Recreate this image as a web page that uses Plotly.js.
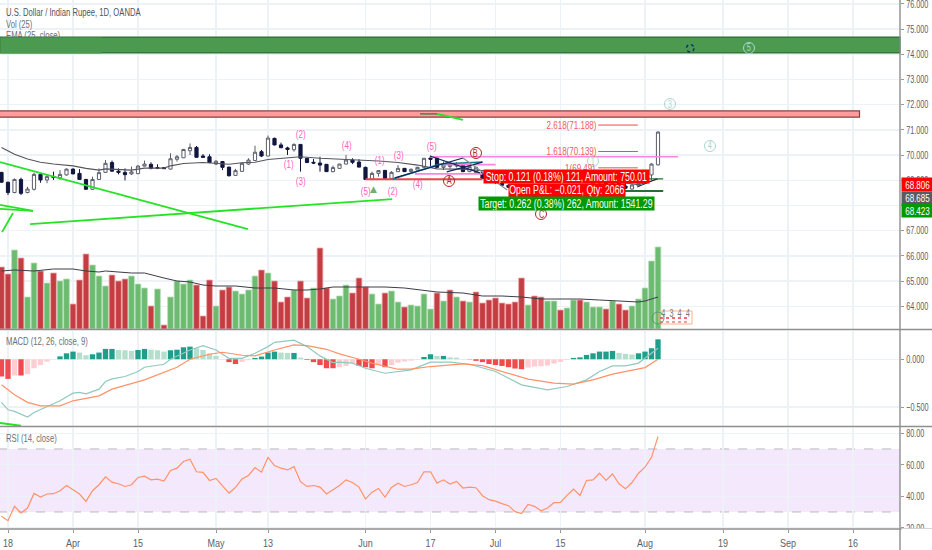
<!DOCTYPE html>
<html><head><meta charset="utf-8">
<script src="https://cdn.plot.ly/plotly-3.0.1.min.js"></script>
<style>html,body{margin:0;padding:0;background:#fff;overflow:hidden}#c{width:932px;height:550px}</style>
</head><body><div id="c"></div>
<script>
// bar index 0 = 18 Mar; trading-day axis
const tickBars=[0,10,20,32,40,55,65,75,85,98,110,120,130];
const tickLabels=['18','Apr','15','May','13','Jun','17','Jul','15','Aug','19','Sep','16'];
const firstBar=-1;
const opens=[69.31,68.92,68.51,69.03,68.51,68.64,69.23,69.01,69.15,69.10,69.21,69.44,69.27,69.03,68.64,69.03,69.31,69.70,69.36,69.31,69.25,69.26,69.56,69.63,69.50,69.50,69.44,69.83,69.89,70.17,70.30,69.96,69.93,69.64,69.74,69.52,69.19,69.35,69.64,69.78,70.13,69.96,70.66,70.40,70.28,70.21,70.42,69.87,69.71,69.68,69.63,69.34,69.47,69.64,69.80,69.72,69.51,69.03,69.27,69.39,69.07,69.34,69.47,69.34,69.40,69.51,69.88,69.88,69.51,69.54,69.56,69.59,69.34,69.30,69.30,69.07,68.98,68.90,68.80,68.72,68.70,68.45,68.55,68.42,68.40,68.52,68.62,68.55,68.66,68.80,68.72,68.84,68.92,68.90,68.82,68.88,68.77,68.65,68.78,68.88,69.21,69.61];
const highs=[69.33,68.94,69.07,69.10,68.74,69.30,69.25,69.21,69.34,69.40,69.47,69.47,69.44,69.05,69.14,69.47,69.80,69.78,69.47,69.47,69.54,69.60,69.78,69.71,69.63,69.52,70.07,70.00,70.24,70.46,70.36,70.04,70.03,69.80,69.75,69.53,69.45,69.70,69.87,70.37,70.20,70.77,70.69,70.49,70.33,70.46,70.42,69.88,69.84,69.93,69.64,69.58,69.65,70.00,69.87,69.83,69.54,69.34,69.39,69.40,69.36,69.60,69.48,69.47,69.53,69.88,69.97,69.90,69.75,69.70,69.72,69.62,69.56,69.53,69.32,69.10,69.02,68.93,68.84,68.75,68.73,68.58,68.60,68.58,68.46,68.56,68.66,68.66,68.70,68.84,68.82,68.88,68.96,68.96,68.92,68.92,68.90,68.84,68.92,69.10,69.68,70.94];
const lows=[68.90,68.41,68.48,68.41,68.48,68.59,68.90,68.88,69.01,69.01,69.18,69.24,69.01,68.62,68.61,69.01,69.30,69.34,69.23,68.99,69.21,69.24,69.54,69.43,69.44,69.45,69.43,69.74,69.88,70.00,69.89,69.89,69.69,69.60,69.40,69.14,69.18,69.33,69.60,69.77,69.92,69.95,70.38,70.27,70.00,70.13,69.34,69.68,69.64,69.34,69.33,69.31,69.46,69.63,69.64,69.51,69.02,69.00,69.14,69.06,69.03,69.33,69.33,69.30,69.38,69.50,69.55,69.49,69.40,69.45,69.50,69.32,69.32,69.27,69.05,68.95,68.86,68.77,68.69,68.67,68.42,68.42,68.39,68.38,68.38,68.49,68.52,68.52,68.63,68.70,68.69,68.81,68.87,68.79,68.80,68.74,68.66,68.63,68.76,68.86,69.00,69.58];
const closes=[68.92,68.51,69.03,68.48,68.65,69.23,69.01,69.14,69.11,69.23,69.44,69.25,69.03,68.64,69.03,69.30,69.67,69.36,69.31,69.22,69.33,69.56,69.64,69.47,69.47,69.46,69.85,69.93,70.22,70.30,69.91,69.91,69.70,69.75,69.51,69.18,69.38,69.67,69.80,70.11,69.96,70.67,70.40,70.29,70.22,70.42,69.87,69.70,69.68,69.60,69.34,69.50,69.64,69.80,69.71,69.52,69.03,69.27,69.38,69.07,69.31,69.47,69.34,69.43,69.51,69.87,69.83,69.51,69.60,69.62,69.64,69.34,69.54,69.51,69.07,68.98,68.90,68.80,68.72,68.70,68.45,68.55,68.42,68.40,68.52,68.62,68.55,68.66,68.80,68.72,68.84,68.92,68.90,68.82,68.88,68.77,68.68,68.81,68.88,69.07,69.64,70.91];
const emaBars=[-1,1,3,5,7,10,12,14,15,17,19,21,24,25,27,30,32,34,36,38,40,43,45,48,51,54,57,60,63,66,70,74,78,82,86,90,94,97,100];
const emaValues=[70.30,70.03,69.84,69.71,69.64,69.57,69.47,69.40,69.45,69.42,69.40,69.48,69.48,69.57,69.66,69.70,69.66,69.63,69.69,69.71,69.82,69.90,69.93,69.87,69.84,69.80,69.76,69.70,69.60,69.45,69.44,69.36,69.28,69.20,69.12,69.00,68.92,68.82,69.05];
const volume=[62,55,79,71,32,66,58,46,56,48,50,25,49,75,64,53,43,54,48,50,53,45,41,23,40,4,32,48,45,49,44,13,49,23,39,42,38,35,39,53,59,56,48,27,32,39,48,31,41,81,41,30,33,44,36,51,42,35,25,36,38,27,22,24,23,35,20,36,28,39,32,28,27,37,26,29,31,26,25,27,51,24,33,32,28,28,19,21,29,29,27,22,22,20,28,25,19,23,30,41,68,82];
const volumeUp=[0,0,1,0,1,1,0,1,0,1,1,0,0,0,1,1,1,0,0,0,1,1,1,0,1,0,1,1,1,1,0,0,0,1,0,0,1,1,1,1,0,1,0,0,0,1,0,0,1,0,0,1,1,1,0,0,0,1,1,0,1,1,0,1,1,1,1,0,1,0,1,0,1,0,0,0,0,0,0,0,0,1,0,0,1,1,0,1,1,0,1,1,1,0,1,0,0,1,1,1,1,1];
const volMaBars=[-1,1,4,7,10,12,14,15,19,21,24,26,28,30,32,35,38,41,44,46,48,50,52,55,58,61,64,66,70,73,76,79,82,85,88,91,94,97,98,100];
const volMaValues=[58,59,58,60,60,58,57,58,56,56,51,48,47,44,43,43,41,41,39,39,40,42,42,42,42,41,39,37,36,33,33,32,30,30,30,29,28,27,28,32];
const macdHist=[-0.18,-0.205,-0.17,-0.17,-0.156,-0.094,-0.06,-0.024,-0.003,0.03,0.062,0.08,0.07,0.042,0.052,0.07,0.108,0.108,0.097,0.094,0.087,0.097,0.108,0.10,0.094,0.08,0.094,0.10,0.125,0.132,0.115,0.097,0.06,0.035,0.002,-0.03,-0.05,-0.028,-0.01,0.014,0.028,0.07,0.08,0.07,0.066,0.066,0.017,-0.007,-0.03,-0.06,-0.094,-0.094,-0.083,-0.07,-0.04,-0.07,-0.083,-0.094,-0.055,-0.083,-0.06,-0.035,-0.024,-0.014,0.001,0.024,0.052,0.035,0.035,0.02,0.017,0.003,-0.003,-0.017,-0.03,-0.05,-0.06,-0.07,-0.083,-0.097,-0.104,-0.087,-0.076,-0.073,-0.066,-0.045,-0.028,-0.007,0.014,0.02,0.045,0.062,0.08,0.08,0.087,0.066,0.056,0.049,0.062,0.08,0.115,0.208];
const macdBars=[-1,0,1,3,4,6,8,10,11,12,14,15,16,18,20,21,24,25,28,30,32,34,36,38,40,41,44,46,48,50,51,53,55,58,62,65,68,71,75,79,83,86,89,91,93,95,97,100];
const macdValues=[-0.45,-0.528,-0.545,-0.604,-0.555,-0.493,-0.434,-0.354,-0.347,-0.361,-0.3125,-0.233,-0.205,-0.18,-0.128,-0.083,-0.052,0,0.097,0.142,0.097,0.01,0.01,0.0625,0.132,0.177,0.2,0.132,0.035,-0.035,-0.03,-0.04,-0.094,-0.146,-0.11,-0.03,-0.03,-0.052,-0.128,-0.267,-0.32,-0.285,-0.215,-0.128,-0.07,-0.07,-0.04,0.115];
const signalBars=[-1,1,3,5,8,10,14,16,21,24,26,28,31,33,36,38,41,44,46,49,51,54,56,60,62,65,70,73,77,80,84,87,90,93,98,100];
const signalValues=[-0.267,-0.37,-0.45,-0.486,-0.486,-0.434,-0.382,-0.3125,-0.215,-0.135,-0.083,0,0.052,0.073,0.042,0.035,0.097,0.15,0.142,0.104,0.056,0,-0.04,-0.104,-0.104,-0.076,-0.049,-0.066,-0.146,-0.208,-0.25,-0.26,-0.215,-0.156,-0.087,0];
const rsi=[27.3,24.5,33.6,29.4,32.5,41.8,39.5,41.4,41.6,43.5,46.8,44.1,41.4,36.7,43.5,47.3,52.3,48.9,47.9,46.2,47.3,51.9,52.7,50.4,50.8,49.6,56.3,57.8,62,63.5,55.5,55.1,50,51.3,46.6,42,45.6,51,53.2,58.2,55.3,64.7,59.5,57.8,56.7,58.8,49.2,46.2,46.8,45.8,41.4,44.1,46.8,50.4,48.7,45.8,38.2,42.6,44.9,39.5,45.6,48.3,46.2,47.3,48.7,55.5,55.5,48.3,50.4,47.7,49.4,45.2,45.8,45.4,40.3,37.8,36.9,35.3,34,30.2,29,34.8,33.6,30.8,32.5,35.9,36.1,40.5,44.5,40.5,50,50.4,54.6,50,54.2,47.9,44.7,48.7,54.6,58.4,64.7,77.8];
const priceTicks=[64,65,66,67,68,69,70,71,72,73,74,75,76];
const macdTicks=[-0.5,0];
const rsiTicks=[20,40,60,80];
const resistanceBand=[71.5,71.75];
const supportBand=[74.05,74.68];
const fibLevels=[71.188,70.139,69.49];
const fibText=['2.618(71.188)','1.618(70.139)','1(69.49)'];
const greenTrend=[[-1.23,69.72,36.9,67.06],[3.4,67.26,59.1,68.25],[-1.23,68.02,3.85,67.78],[-1.23,67.86,3.85,67.78],[-0.92,66.94,0.77,67.70],[66,71.63,70,71.39]];
const pinkLevels=[[64.9,103.1,69.93],[66.9,75,69.62],[62.6,73,69.25]];
const tealWedge=[[59.2,69.05,66.5,69.64],[66.5,69.64,73,69.72]];
const navyWedge=[[64.9,69.96,72.6,69.29],[59.5,69.09,70,69.88],[67.5,69.33,73,69.72]];
const grayWedge=[[70,69.88,76.8,68.61]];

const n=opens.length;
const bars=Array.from({length:n},(_,k)=>firstBar+k);
const histColor=macdHist.map((v,k)=>{const p=k?macdHist[k-1]:v;
  return v>=0?(v>=p?'#1f9e8c':'#b5dfcc'):(v<=p?'#ef4b4f':'#ffcdd2');});
const W=900,H=529;
const PX=x=>x/W, PY=y=>1-y/H;
const textC='#6b6f7a';
const fnt='"Liberation Sans",sans-serif';

const data=[
 {type:'bar',x:bars,y:macdHist,xaxis:'x',yaxis:'y2',marker:{color:histColor,line:{width:0}},width:0.82,hoverinfo:'skip'},
 {type:'scatter',mode:'lines',x:macdBars,y:macdValues,xaxis:'x',yaxis:'y2',line:{color:'#8fcabf',width:1.2},hoverinfo:'skip'},
 {type:'scatter',mode:'lines',x:signalBars,y:signalValues,xaxis:'x',yaxis:'y2',line:{color:'#ff9268',width:1.2},hoverinfo:'skip'},
 {type:'scatter',mode:'lines',x:bars,y:rsi,xaxis:'x',yaxis:'y3',line:{color:'#ff9268',width:1.2},hoverinfo:'skip'},
 {type:'bar',x:bars,y:volume,xaxis:'x',yaxis:'y4',width:0.88,
  marker:{color:volumeUp.map(u=>u?'#6cbb70':'#c43d42'),line:{color:volumeUp.map(u=>u?'#b9deba':'#f0a6aa'),width:0.8}},hoverinfo:'skip'},
 {type:'scatter',mode:'lines',x:volMaBars,y:volMaValues,xaxis:'x',yaxis:'y4',line:{color:'#3d3d48',width:1},hoverinfo:'skip'},
 {type:'scatter',mode:'lines',x:emaBars,y:emaValues,xaxis:'x',yaxis:'y',line:{color:'#55555f',width:1.1},hoverinfo:'skip'},
 {type:'candlestick',x:bars,open:opens,high:highs,low:lows,close:closes,xaxis:'x',yaxis:'y',whiskerwidth:0,
  increasing:{line:{color:'#5b5f6b',width:1},fillcolor:'#ffffff'},
  decreasing:{line:{color:'#10163f',width:1},fillcolor:'#10163f'},hoverinfo:'skip'},
];

const seg=(a,color,width,yref)=>({type:'line',xref:'x',yref:yref||'y',x0:a[0],y0:a[1],x1:a[2],y1:a[3],line:{color,width},layer:'above'});
const shapes=[
 {type:'rect',xref:'paper',yref:'y3',x0:0,x1:1,y0:30,y1:70,fillcolor:'rgba(205,150,245,0.22)',line:{width:0},layer:'below'},
 {type:'line',xref:'paper',yref:'y3',x0:0,x1:1,y0:70,y1:70,line:{color:'#b9b9be',width:1,dash:'dash'},layer:'below'},
 {type:'line',xref:'paper',yref:'y3',x0:0,x1:1,y0:30,y1:30,line:{color:'#b9b9be',width:1,dash:'dash'},layer:'below'},
 {type:'rect',xref:'paper',yref:'y',x0:0,x1:1,y0:supportBand[0],y1:supportBand[1],fillcolor:'#4c9a50',line:{color:'#2b6e33',width:1.2},layer:'above'},
 {type:'rect',xref:'x',yref:'y',x0:-3,x1:131,y0:resistanceBand[0],y1:resistanceBand[1],fillcolor:'#ff9d9d',line:{color:'#8a4040',width:1.2},layer:'above'},
 ...greenTrend.map(a=>seg(a,'#25e325',1.8)),
 seg([63.4,71.63,66,71.63],'#2b6e33',1.2),
 ...pinkLevels.map(a=>({type:'line',xref:'x',yref:'y',x0:a[0],x1:a[1],y0:a[2],y1:a[2],line:{color:'#ff85dc',width:1.6},layer:'above'})),
 seg([55,69.04,73,69.04],'#f0444a',2),
 ...tealWedge.map(a=>seg(a,'#17808a',1.6)),
 ...navyWedge.map(a=>seg(a,'#10265a',1.2)),
 ...grayWedge.map(a=>seg(a,'#8c8c94',1.2)),
 ...fibLevels.map(v=>seg([90.8,v,96.9,v],'#f04a4a',1)),
 seg([90.8,69.05,100.8,69.05],'#2b6e33',1.2),
 seg([88,68.57,100.8,68.57],'#2b6e33',2),
 seg([96.8,68.73,99.8,69.05],'#23262e',1),
 // scribbled pattern labels under last bars
 {type:'rect',xref:'paper',yref:'paper',x0:PX(659),x1:PX(692),y0:PY(324),y1:PY(311),line:{color:'#ffb08a',width:1},layer:'above'},
 {type:'line',xref:'paper',yref:'paper',x0:PX(660),x1:PX(690),y0:PY(318),y1:PY(318),line:{color:'#f23b3b',width:1.6,dash:'dot'},layer:'above'},
 {type:'line',xref:'paper',yref:'paper',x0:PX(660),x1:PX(688),y0:PY(322),y1:PY(322),line:{color:'#f23b3b',width:1.2,dash:'dot'},layer:'above'},
 {type:'circle',xref:'paper',yref:'paper',x0:PX(652),x1:PX(664),y0:PY(324),y1:PY(312),line:{color:'#5a9a66',width:1},layer:'above'},
 seg([-1.23,-0.665,2,-0.695],'#25e325',2,'y2'),
 // pane separators and scale border
 ...[329.5,426.5,529].map(y=>({type:'line',xref:'paper',yref:'paper',x0:0,x1:932/900,y0:PY(y),y1:PY(y),line:{color:'#8e8e8e',width:1.6},layer:'above'})),
 {type:'line',xref:'paper',yref:'paper',x0:1,x1:1,y0:PY(550),y1:1,line:{color:'#8e8e8e',width:1.4},layer:'above'},
];

const ann=(x,y,text,opt)=>Object.assign({xref:'paper',yref:'paper',x:PX(x),y:PY(y),text,showarrow:false,xanchor:'left',yanchor:'middle',
  font:{family:fnt,size:10.5,color:textC},borderpad:0},opt||{});
const wave=(x,y,t)=>ann(x,y,t,{xanchor:'center',font:{family:fnt,size:11,color:'#ff5fbf'}});
const circ=(x,y,t,c,sz)=>ann(x,y,t,{xanchor:'center',font:{family:fnt,size:sz||10,color:c}});
const box=(x,y,w,h,text,bg,sz)=>ann(x,y,text,{width:w,height:h,align:'center',bgcolor:bg,font:{family:fnt,size:sz||12,color:'#fff'}});
const ring=(x,y,r,c)=>({type:'circle',xref:'paper',yref:'paper',x0:PX(x-r),x1:PX(x+r),y0:PY(y+r),y1:PY(y-r),line:{color:c,width:1},layer:'above'});
shapes.push(ring(449,181,5.5,'#b3262a'),ring(476,153,5.5,'#b3262a'),ring(541,214,5.5,'#b3262a'),
  ring(670,104,5.5,'#a9d6d0'),ring(593,161,5.5,'#a9d6d0'),ring(710,146,5.5,'#a9d6d0'),ring(749,48,5.5,'#a9d6d0'),ring(631,204,5.5,'#7fb8c8'),
  {type:'circle',xref:'paper',yref:'paper',x0:PX(686.5),x1:PX(694),y0:PY(52),y1:PY(44.5),line:{color:'#0a2a78',width:1.4,dash:'dot'},layer:'above'});
const annotations=[
 ann(5,12,'U.S. Dollar / Indian Rupee, 1D, OANDA',{font:{family:fnt,size:10.5,color:'#4f535e'}}),
 ann(5,24,'Vol (25)'),
 ann(5,35.5,'EMA (25, close)'),
 ann(0,45.5,' ',{width:100,height:14.5,bgcolor:'#4c9a50'}),
 ann(5,341,'MACD (12, 26, close, 9)'),
 ann(5,438,'RSI (14, close)'),
 wave(300,134,'(2)'),wave(288,164,'(1)'),wave(300,181,'(3)'),wave(346,145,'(4)'),wave(379,160,'(1)'),
 wave(398,155,'(3)'),wave(431,146,'(5)'),wave(417,184,'(4)'),wave(392,191,'(2)'),wave(365,191,'(5)'),
 ann(373,189,'▲',{xanchor:'center',font:{family:'"DejaVu Sans",sans-serif',size:9,color:'#69b56f'}}),
 circ(449,181,'A','#b3262a'),circ(476,153,'B','#b3262a'),circ(541,214,'C','#b3262a'),
 circ(670,104,'3','#a9d6d0'),circ(593,161,'1','#a9d6d0'),circ(710,146,'4','#a9d6d0'),circ(749,48,'5','#a9d6d0'),
 ann(598,125,fibText[0],{xanchor:'right',font:{family:fnt,size:11,color:'#f05a5a'}}),
 ann(598,151.5,fibText[1],{xanchor:'right',font:{family:fnt,size:11,color:'#f05a5a'}}),
 ann(596,168,fibText[2],{xanchor:'right',font:{family:fnt,size:11,color:'#f05a5a'}}),
 box(483,176.5,165,13,'Stop: 0.121 (0.18%) 121, Amount: 750.01','#ff0000'),
 box(521,197,93,8,'Risk/Reward Ratio: 2.17','#ff0000',11),
 box(508,190,116,12.5,'Open P&amp;L: −0.021, Qty: 2066','#ff0000'),
 box(478,203.5,175,13,'Target: 0.262 (0.38%) 262, Amount: 1541.29','#009900'),
 circ(631,204,'2','#7fb8c8'),
 ann(675,313,'4  3  4  4',{xanchor:'center',font:{family:fnt,size:10,color:'#777'}}),
 box(901,184.5,31,13,'68.806','#ff0000',11),
 box(901,197.5,31,12,'68.685','#5a5a60',11),
 box(901,210.5,31,13,'68.423','#009900',11),
 ann(901,539.5,' ',{width:31,height:21,bgcolor:'#ffffff'}),
];
const grid='#edf2f7';
const yax=(domain,range,tickvals,fmt,extra)=>Object.assign({domain,range,tickvals,tickformat:fmt,side:'right',anchor:'x',fixedrange:true,
  showgrid:true,gridcolor:grid,gridwidth:1.4,zeroline:false,ticks:'outside',ticklen:3,tickcolor:'#999',ticklabeloverflow:'allow',
  tickfont:{family:fnt,size:11,color:'#5c606b'},showline:false},extra||{});
const layout={
 width:932,height:550,margin:{l:0,r:32,t:0,b:21},paper_bgcolor:'#fff',plot_bgcolor:'#fff',showlegend:false,barmode:'overlay',
 xaxis:{range:[-1.23,137.23],anchor:'y3',tickmode:'array',tickvals:tickBars,ticktext:tickLabels,showgrid:true,gridcolor:grid,gridwidth:1.4,zeroline:false,
   ticks:'outside',ticklen:3,tickcolor:'#999',tickfont:{family:fnt,size:11.5,color:'#5c606b'},rangeslider:{visible:false},fixedrange:true},
 yaxis:yax([PY(329),1],[70-174/25.2,70+155/25.2],priceTicks,'.3f'),
 yaxis2:yax([PY(426),PY(331)],[-0.697,0.295],macdTicks,'.3f'),
 yaxis3:yax([0,PY(428)],[19.2,83.3],rsiTicks,'.2f'),
 yaxis4:{domain:[PY(329),1],overlaying:'y',side:'left',range:[0,329],visible:false,fixedrange:true,anchor:'x'},
 shapes,annotations,
};
// the reference's labels are set in a condensed face: squeeze the real text to that width
const squeeze=(t,f)=>{
  const s=t.textContent.trim(); if(!s||s==='▲')return 0;
  const w=t.getComputedTextLength();
  t.setAttribute('textLength',(w*f).toFixed(1));
  t.setAttribute('lengthAdjust','spacingAndGlyphs');
  return w*(1-f)/2;};
Plotly.newPlot('c',data,layout,{displayModeBar:false,staticPlot:true}).then(()=>{
  document.querySelectorAll('.annotation').forEach(g=>{
    const a=annotations[+g.getAttribute('data-index')];
    const t=g.querySelector('.annotation-text'); if(!t)return;
    const d=squeeze(t,0.73);
    if(a.width)return;                    // fixed boxes stay centred
    const shift=a.xanchor==='left'?-d:a.xanchor==='right'?d:0;
    t.setAttribute('x',(parseFloat(t.getAttribute('x')||0)+shift).toFixed(1));
  });
  document.querySelectorAll('.ytick text,.y2tick text,.y3tick text').forEach(t=>squeeze(t,0.66));
  document.querySelectorAll('.xtick text').forEach(t=>squeeze(t,0.78));
});
</script></body></html>
